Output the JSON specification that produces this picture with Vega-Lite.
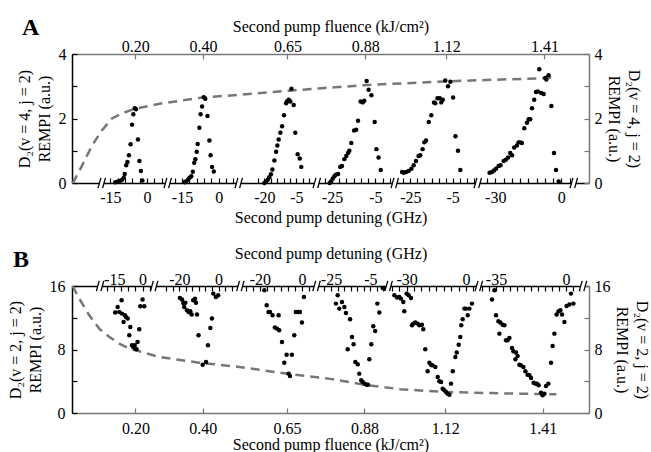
{
  "$schema": "https://vega.github.io/schema/vega-lite/v6.json",
  "padding": {"left": 7, "top": 16, "right": 0, "bottom": 0},
  "bounds": "flush",
  "spacing": 103,
  "datasets": {
    "dotsA": [
      {"seg":1,"detuning":-12.96,"signal":0.02},{"seg":1,"detuning":-11.87,"signal":0.05},{"seg":1,"detuning":-10.9,"signal":0.07},{"seg":1,"detuning":-10.2,"signal":0.1},{"seg":1,"detuning":-9.5,"signal":0.16},{"seg":1,"detuning":-9.1,"signal":0.28},{"seg":1,"detuning":-8.5,"signal":0.55},{"seg":1,"detuning":-8.0,"signal":0.65},{"seg":1,"detuning":-7.4,"signal":0.86},{"seg":1,"detuning":-6.7,"signal":1.2},{"seg":1,"detuning":-6.1,"signal":1.81},{"seg":1,"detuning":-5.6,"signal":2.13},{"seg":1,"detuning":-5.0,"signal":2.32},{"seg":1,"detuning":-4.5,"signal":2.29},{"seg":1,"detuning":-3.7,"signal":1.35},{"seg":1,"detuning":-3.1,"signal":0.68},{"seg":1,"detuning":-2.5,"signal":0.37},{"seg":1,"detuning":-1.9,"signal":0.08},
      {"seg":2,"detuning":-13.9,"signal":0.02},{"seg":2,"detuning":-13.4,"signal":0.05},{"seg":2,"detuning":-12.55,"signal":0.1},{"seg":2,"detuning":-11.9,"signal":0.16},{"seg":2,"detuning":-11.2,"signal":0.21},{"seg":2,"detuning":-10.6,"signal":0.35},{"seg":2,"detuning":-10.0,"signal":0.63},{"seg":2,"detuning":-9.55,"signal":0.74},{"seg":2,"detuning":-9.0,"signal":0.97},{"seg":2,"detuning":-8.6,"signal":1.21},{"seg":2,"detuning":-7.9,"signal":1.71},{"seg":2,"detuning":-7.4,"signal":2.13},{"seg":2,"detuning":-6.8,"signal":2.37},{"seg":2,"detuning":-6.1,"signal":2.66},{"seg":2,"detuning":-5.5,"signal":2.61},{"seg":2,"detuning":-4.6,"signal":2.08},{"seg":2,"detuning":-3.8,"signal":1.32},{"seg":2,"detuning":-3.3,"signal":0.86},{"seg":2,"detuning":-2.7,"signal":0.5},{"seg":2,"detuning":-2.0,"signal":0.36},
      {"seg":3,"detuning":-20.0,"signal":0.0},{"seg":3,"detuning":-19.2,"signal":0.05},{"seg":3,"detuning":-18.4,"signal":0.1},{"seg":3,"detuning":-17.7,"signal":0.18},{"seg":3,"detuning":-16.9,"signal":0.27},{"seg":3,"detuning":-16.25,"signal":0.42},{"seg":3,"detuning":-15.3,"signal":0.7},{"seg":3,"detuning":-14.5,"signal":0.97},{"seg":3,"detuning":-13.9,"signal":1.16},{"seg":3,"detuning":-13.3,"signal":1.35},{"seg":3,"detuning":-12.5,"signal":1.56},{"seg":3,"detuning":-11.7,"signal":1.76},{"seg":3,"detuning":-10.8,"signal":2.1},{"seg":3,"detuning":-9.8,"signal":2.47},{"seg":3,"detuning":-9.4,"signal":2.53},{"seg":3,"detuning":-8.6,"signal":2.58},{"seg":3,"detuning":-7.8,"signal":2.53},{"seg":3,"detuning":-7.3,"signal":2.92},{"seg":3,"detuning":-6.25,"signal":2.42},{"seg":3,"detuning":-5.5,"signal":1.56},{"seg":3,"detuning":-4.4,"signal":0.89},{"seg":3,"detuning":-3.4,"signal":0.76},{"seg":3,"detuning":-2.7,"signal":0.5},
      {"seg":4,"detuning":-26.1,"signal":0.0},{"seg":4,"detuning":-25.5,"signal":0.05},{"seg":4,"detuning":-24.7,"signal":0.13},{"seg":4,"detuning":-23.9,"signal":0.21},{"seg":4,"detuning":-23.2,"signal":0.26},{"seg":4,"detuning":-22.2,"signal":0.28},{"seg":4,"detuning":-21.2,"signal":0.5},{"seg":4,"detuning":-20.4,"signal":0.53},{"seg":4,"detuning":-19.3,"signal":0.74},{"seg":4,"detuning":-18.4,"signal":0.84},{"seg":4,"detuning":-17.6,"signal":0.93},{"seg":4,"detuning":-17.0,"signal":1.0},{"seg":4,"detuning":-16.1,"signal":1.24},{"seg":4,"detuning":-14.8,"signal":1.63},{"seg":4,"detuning":-13.8,"signal":1.65},{"seg":4,"detuning":-13.0,"signal":1.93},{"seg":4,"detuning":-11.8,"signal":2.53},{"seg":4,"detuning":-10.8,"signal":2.5},{"seg":4,"detuning":-10.1,"signal":2.55},{"seg":4,"detuning":-9.0,"signal":3.16},{"seg":4,"detuning":-8.1,"signal":2.89},{"seg":4,"detuning":-6.8,"signal":2.72},{"seg":4,"detuning":-5.3,"signal":1.89},{"seg":4,"detuning":-4.5,"signal":1.05},{"seg":4,"detuning":-3.5,"signal":0.79},{"seg":4,"detuning":-2.5,"signal":0.4},
      {"seg":5,"detuning":-28.9,"signal":0.34},{"seg":5,"detuning":-28.1,"signal":0.32},{"seg":5,"detuning":-27.0,"signal":0.34},{"seg":5,"detuning":-25.8,"signal":0.37},{"seg":5,"detuning":-24.5,"signal":0.44},{"seg":5,"detuning":-23.4,"signal":0.55},{"seg":5,"detuning":-22.3,"signal":0.68},{"seg":5,"detuning":-21.1,"signal":0.84},{"seg":5,"detuning":-20.3,"signal":0.86},{"seg":5,"detuning":-19.2,"signal":1.05},{"seg":5,"detuning":-18.4,"signal":1.26},{"seg":5,"detuning":-17.6,"signal":1.32},{"seg":5,"detuning":-16.3,"signal":1.89},{"seg":5,"detuning":-15.1,"signal":2.1},{"seg":5,"detuning":-13.8,"signal":2.5},{"seg":5,"detuning":-13.2,"signal":2.47},{"seg":5,"detuning":-12.2,"signal":2.63},{"seg":5,"detuning":-11.1,"signal":2.63},{"seg":5,"detuning":-10.4,"signal":2.5},{"seg":5,"detuning":-9.7,"signal":2.58},{"seg":5,"detuning":-8.5,"signal":3.18},{"seg":5,"detuning":-7.2,"signal":3.0},{"seg":5,"detuning":-6.1,"signal":3.14},{"seg":5,"detuning":-4.8,"signal":2.65},{"seg":5,"detuning":-3.7,"signal":1.45},{"seg":5,"detuning":-2.5,"signal":1.0},{"seg":5,"detuning":-1.4,"signal":0.4},
      {"seg":6,"detuning":-32.6,"signal":0.32},{"seg":6,"detuning":-31.5,"signal":0.34},{"seg":6,"detuning":-30.6,"signal":0.39},{"seg":6,"detuning":-29.7,"signal":0.44},{"seg":6,"detuning":-28.5,"signal":0.53},{"seg":6,"detuning":-27.6,"signal":0.55},{"seg":6,"detuning":-26.2,"signal":0.68},{"seg":6,"detuning":-25.2,"signal":0.72},{"seg":6,"detuning":-24.2,"signal":0.79},{"seg":6,"detuning":-23.2,"signal":0.93},{"seg":6,"detuning":-22.4,"signal":0.86},{"seg":6,"detuning":-21.4,"signal":1.1},{"seg":6,"detuning":-20.2,"signal":1.16},{"seg":6,"detuning":-19.4,"signal":1.26},{"seg":6,"detuning":-18.6,"signal":1.26},{"seg":6,"detuning":-17.9,"signal":1.24},{"seg":6,"detuning":-16.8,"signal":1.7},{"seg":6,"detuning":-15.6,"signal":1.87},{"seg":6,"detuning":-14.8,"signal":1.98},{"seg":6,"detuning":-14.1,"signal":1.98},{"seg":6,"detuning":-13.3,"signal":2.32},{"seg":6,"detuning":-12.3,"signal":2.58},{"seg":6,"detuning":-11.5,"signal":2.82},{"seg":6,"detuning":-10.6,"signal":2.84},{"seg":6,"detuning":-10.0,"signal":3.53},{"seg":6,"detuning":-9.1,"signal":2.79},{"seg":6,"detuning":-8.0,"signal":2.76},{"seg":6,"detuning":-7.3,"signal":3.26},{"seg":6,"detuning":-6.8,"signal":3.21},{"seg":6,"detuning":-5.8,"signal":3.34},{"seg":6,"detuning":-4.5,"signal":2.39},{"seg":6,"detuning":-3.3,"signal":0.93},{"seg":6,"detuning":-2.4,"signal":0.4},{"seg":6,"detuning":-1.2,"signal":0.05}
    ],
    "dotsB": [
      {"seg":1,"detuning":-14.5,"signal":12.65},{"seg":1,"detuning":-13.2,"signal":13.36},{"seg":1,"detuning":-12.35,"signal":12.73},{"seg":1,"detuning":-11.1,"signal":14.2},{"seg":1,"detuning":-10.9,"signal":12.52},{"seg":1,"detuning":-10.05,"signal":11.47},{"seg":1,"detuning":-9.35,"signal":12.31},{"seg":1,"detuning":-8.8,"signal":12.1},{"seg":1,"detuning":-7.9,"signal":11.9},{"seg":1,"detuning":-7.05,"signal":9.79},{"seg":1,"detuning":-6.5,"signal":10.84},{"seg":1,"detuning":-5.6,"signal":8.53},{"seg":1,"detuning":-4.9,"signal":8.32},{"seg":1,"detuning":-4.2,"signal":8.53},{"seg":1,"detuning":-3.9,"signal":8.1},{"seg":1,"detuning":-3.2,"signal":8.03},{"seg":1,"detuning":-2.65,"signal":8.95},{"seg":1,"detuning":-1.76,"signal":10.55},{"seg":1,"detuning":-1.2,"signal":13.45},{"seg":1,"detuning":0.0,"signal":14.29},{"seg":1,"detuning":0.9,"signal":13.45},
      {"seg":2,"detuning":-19.7,"signal":14.5},{"seg":2,"detuning":-18.6,"signal":14.29},{"seg":2,"detuning":-18.0,"signal":13.87},{"seg":2,"detuning":-17.5,"signal":13.36},{"seg":2,"detuning":-16.9,"signal":13.9},{"seg":2,"detuning":-16.1,"signal":12.94},{"seg":2,"detuning":-15.25,"signal":12.73},{"seg":2,"detuning":-14.4,"signal":12.82},{"seg":2,"detuning":-13.7,"signal":12.4},{"seg":2,"detuning":-12.9,"signal":14.2},{"seg":2,"detuning":-12.0,"signal":14.4},{"seg":2,"detuning":-11.5,"signal":13.9},{"seg":2,"detuning":-11.0,"signal":12.4},{"seg":2,"detuning":-10.2,"signal":9.79},{"seg":2,"detuning":-8.1,"signal":6.09},{"seg":2,"detuning":-6.4,"signal":6.43},{"seg":2,"detuning":-5.4,"signal":8.53},{"seg":2,"detuning":-4.2,"signal":10.71},{"seg":2,"detuning":-3.4,"signal":11.9},{"seg":2,"detuning":-2.7,"signal":15.04},{"seg":2,"detuning":-1.4,"signal":14.62},{"seg":2,"detuning":-0.2,"signal":14.83},
      {"seg":3,"detuning":-17.9,"signal":15.46},{"seg":3,"detuning":-16.8,"signal":13.57},{"seg":3,"detuning":-15.9,"signal":12.73},{"seg":3,"detuning":-15.2,"signal":12.73},{"seg":3,"detuning":-14.0,"signal":12.31},{"seg":3,"detuning":-12.9,"signal":10.76},{"seg":3,"detuning":-11.9,"signal":10.63},{"seg":3,"detuning":-10.8,"signal":10.42},{"seg":3,"detuning":-11.1,"signal":12.31},{"seg":3,"detuning":-9.5,"signal":8.95},{"seg":3,"detuning":-8.4,"signal":6.34},{"seg":3,"detuning":-7.3,"signal":7.35},{"seg":3,"detuning":-6.35,"signal":4.96},{"seg":3,"detuning":-5.7,"signal":4.66},{"seg":3,"detuning":-4.8,"signal":7.35},{"seg":3,"detuning":-3.65,"signal":9.79},{"seg":3,"detuning":-2.9,"signal":12.73},{"seg":3,"detuning":-1.75,"signal":12.73},{"seg":3,"detuning":-0.95,"signal":12.73},{"seg":3,"detuning":0.0,"signal":11.39},{"seg":3,"detuning":0.95,"signal":14.62},
      {"seg":4,"detuning":-22.5,"signal":13.78},{"seg":4,"detuning":-21.6,"signal":14.83},{"seg":4,"detuning":-20.8,"signal":13.15},{"seg":4,"detuning":-19.4,"signal":13.99},{"seg":4,"detuning":-18.2,"signal":13.36},{"seg":4,"detuning":-17.4,"signal":12.61},{"seg":4,"detuning":-16.5,"signal":8.03},{"seg":4,"detuning":-15.3,"signal":11.81},{"seg":4,"detuning":-14.3,"signal":9.58},{"seg":4,"detuning":-13.5,"signal":8.66},{"seg":4,"detuning":-12.6,"signal":6.43},{"seg":4,"detuning":-11.4,"signal":6.13},{"seg":4,"detuning":-10.6,"signal":4.96},{"seg":4,"detuning":-9.6,"signal":4.12},{"seg":4,"detuning":-8.9,"signal":3.91},{"seg":4,"detuning":-7.9,"signal":3.7},{"seg":4,"detuning":-6.9,"signal":3.57},{"seg":4,"detuning":-6.2,"signal":3.57},{"seg":4,"detuning":-5.5,"signal":6.76},{"seg":4,"detuning":-4.5,"signal":8.66},{"seg":4,"detuning":-3.5,"signal":10.92},{"seg":4,"detuning":-2.5,"signal":10.34},{"seg":4,"detuning":-1.4,"signal":13.78},{"seg":4,"detuning":-0.4,"signal":12.65},{"seg":4,"detuning":1.3,"signal":15.76},{"seg":4,"detuning":2.1,"signal":15.76},{"seg":4,"detuning":3.0,"signal":15.67},
      {"seg":5,"detuning":-36.2,"signal":14.83},{"seg":5,"detuning":-34.8,"signal":14.54},{"seg":5,"detuning":-33.7,"signal":14.62},{"seg":5,"detuning":-32.9,"signal":14.41},{"seg":5,"detuning":-31.7,"signal":13.99},{"seg":5,"detuning":-31.2,"signal":12.82},{"seg":5,"detuning":-30.0,"signal":15.04},{"seg":5,"detuning":-29.0,"signal":14.83},{"seg":5,"detuning":-27.8,"signal":14.5},{"seg":5,"detuning":-27.3,"signal":11.05},{"seg":5,"detuning":-26.6,"signal":11.26},{"seg":5,"detuning":-25.6,"signal":11.39},{"seg":5,"detuning":-24.5,"signal":11.26},{"seg":5,"detuning":-23.6,"signal":11.05},{"seg":5,"detuning":-22.3,"signal":11.13},{"seg":5,"detuning":-21.6,"signal":10.55},{"seg":5,"detuning":-20.6,"signal":8.03},{"seg":5,"detuning":-19.4,"signal":5.25},{"seg":5,"detuning":-18.5,"signal":6.34},{"seg":5,"detuning":-17.7,"signal":6.09},{"seg":5,"detuning":-16.9,"signal":6.0},{"seg":5,"detuning":-15.5,"signal":5.8},{"seg":5,"detuning":-14.3,"signal":4.54},{"seg":5,"detuning":-13.5,"signal":3.99},{"seg":5,"detuning":-12.6,"signal":3.91},{"seg":5,"detuning":-11.8,"signal":3.07},{"seg":5,"detuning":-10.96,"signal":2.86},{"seg":5,"detuning":-10.1,"signal":2.65},{"seg":5,"detuning":-9.3,"signal":2.44},{"seg":5,"detuning":-8.4,"signal":2.31},{"seg":5,"detuning":-7.6,"signal":3.7},{"seg":5,"detuning":-6.7,"signal":5.25},{"seg":5,"detuning":-5.4,"signal":7.06},{"seg":5,"detuning":-4.7,"signal":7.61},{"seg":5,"detuning":-3.7,"signal":8.61},{"seg":5,"detuning":-2.9,"signal":9.58},{"seg":5,"detuning":-2.4,"signal":11.05},{"seg":5,"detuning":-1.7,"signal":11.81},{"seg":5,"detuning":-0.84,"signal":13.15},{"seg":5,"detuning":0.0,"signal":13.15},{"seg":5,"detuning":0.84,"signal":12.31},{"seg":5,"detuning":1.7,"signal":13.15},{"seg":5,"detuning":3.0,"signal":13.78},
      {"seg":6,"detuning":-37.0,"signal":14.29},{"seg":6,"detuning":-35.8,"signal":15.46},{"seg":6,"detuning":-35.0,"signal":12.31},{"seg":6,"detuning":-33.8,"signal":11.55},{"seg":6,"detuning":-32.8,"signal":11.39},{"seg":6,"detuning":-33.3,"signal":10.0},{"seg":6,"detuning":-31.7,"signal":11.13},{"seg":6,"detuning":-30.8,"signal":11.05},{"seg":6,"detuning":-30.0,"signal":9.16},{"seg":6,"detuning":-29.2,"signal":9.16},{"seg":6,"detuning":-28.3,"signal":9.45},{"seg":6,"detuning":-27.0,"signal":8.19},{"seg":6,"detuning":-26.3,"signal":7.77},{"seg":6,"detuning":-25.3,"signal":6.76},{"seg":6,"detuning":-25.0,"signal":7.61},{"seg":6,"detuning":-24.2,"signal":7.18},{"seg":6,"detuning":-23.3,"signal":6.09},{"seg":6,"detuning":-22.5,"signal":6.0},{"seg":6,"detuning":-21.3,"signal":5.8},{"seg":6,"detuning":-20.3,"signal":5.25},{"seg":6,"detuning":-19.2,"signal":4.83},{"seg":6,"detuning":-18.3,"signal":4.75},{"seg":6,"detuning":-17.5,"signal":4.41},{"seg":6,"detuning":-16.2,"signal":3.82},{"seg":6,"detuning":-15.3,"signal":3.7},{"seg":6,"detuning":-14.5,"signal":3.7},{"seg":6,"detuning":-13.7,"signal":3.49},{"seg":6,"detuning":-12.5,"signal":2.56},{"seg":6,"detuning":-11.7,"signal":2.23},{"seg":6,"detuning":-10.8,"signal":2.44},{"seg":6,"detuning":-10.0,"signal":3.4},{"seg":6,"detuning":-8.8,"signal":3.7},{"seg":6,"detuning":-7.5,"signal":6.34},{"seg":6,"detuning":-6.7,"signal":8.45},{"seg":6,"detuning":-5.8,"signal":10.0},{"seg":6,"detuning":-4.7,"signal":12.4},{"seg":6,"detuning":-3.7,"signal":12.82},{"seg":6,"detuning":-2.8,"signal":12.94},{"seg":6,"detuning":-2.0,"signal":12.4},{"seg":6,"detuning":-0.8,"signal":11.47},{"seg":6,"detuning":0.3,"signal":13.49},{"seg":6,"detuning":1.7,"signal":13.66},{"seg":6,"detuning":2.5,"signal":15.04},{"seg":6,"detuning":3.7,"signal":13.78}
    ],
    "curveA": [
      {"fluence":0.0135,"signal":0.0},{"fluence":0.018,"signal":0.05},{"fluence":0.042,"signal":0.53},{"fluence":0.072,"signal":1.16},{"fluence":0.101,"signal":1.63},{"fluence":0.131,"signal":2.0},{"fluence":0.161,"signal":2.16},{"fluence":0.195,"signal":2.29},{"fluence":0.279,"signal":2.47},{"fluence":0.397,"signal":2.65},{"fluence":0.516,"signal":2.74},{"fluence":0.664,"signal":2.87},{"fluence":0.752,"signal":2.94},{"fluence":0.888,"signal":3.04},{"fluence":1.116,"signal":3.15},{"fluence":1.285,"signal":3.21},{"fluence":1.409,"signal":3.25},{"fluence":1.433,"signal":3.27}
    ],
    "curveB": [
      {"fluence":0.0135,"signal":16.0},{"fluence":0.0334,"signal":14.4},{"fluence":0.063,"signal":12.3},{"fluence":0.093,"signal":10.6},{"fluence":0.123,"signal":9.58},{"fluence":0.152,"signal":8.74},{"fluence":0.182,"signal":8.1},{"fluence":0.212,"signal":7.77},{"fluence":0.271,"signal":7.06},{"fluence":0.39,"signal":6.34},{"fluence":0.509,"signal":5.8},{"fluence":0.658,"signal":4.9},{"fluence":0.778,"signal":4.3},{"fluence":0.888,"signal":3.5},{"fluence":0.986,"signal":3.0},{"fluence":1.117,"signal":2.65},{"fluence":1.284,"signal":2.48},{"fluence":1.45,"signal":2.35}
    ],
    "breaksA": [{"fluence":0.1015},{"fluence":0.2967},{"fluence":0.5068},{"fluence":0.7376},{"fluence":0.9683},{"fluence":1.2139},{"fluence":1.4979}],
    "breaksB": [{"fluence":0.0959},{"fluence":0.2566},{"fluence":0.5125},{"fluence":0.7387},{"fluence":0.9528},{"fluence":1.2206},{"fluence":1.53}]
  },
  "vconcat": [
    {
      "width": 517,
      "height": 129,
      "title": {"text": "A", "anchor": "start", "frame": "bounds", "fontSize": 24, "fontWeight": "bold", "font": "Liberation Serif", "color": "black", "dx": 6, "dy": 22, "offset": 0},
      "resolve": {"scale": {"x": "independent", "y": "independent"}, "axis": {"x": "independent", "y": "independent"}},
      "layer": [
        {
          "data": {"name": "curveA"},
          "mark": {"type": "line", "color": "#777777", "strokeWidth": 2.5, "strokeDash": [9, 6]},
          "encoding": {
            "x": {"field": "fluence", "type": "quantitative", "scale": {"domain": [0.0127, 1.542], "nice": false, "zero": false},
              "axis": {"orient": "top", "values": [0.2, 0.4, 0.65, 0.88, 1.12, 1.41], "format": ".2f", "tickSize": -5, "labelPadding": 5, "tickColor": "#777777", "domainColor": "#777777", "title": "Second pump fluence (kJ/cm²)", "titlePadding": 4}},
            "y": {"field": "signal", "type": "quantitative", "scale": {"domain": [0, 4], "nice": false},
              "axis": {"orient": "right", "values": [0, 1, 2, 3, 4], "labelExpr": "datum.value % 2 == 0 ? datum.label : ''", "tickSize": -5, "labelPadding": 10, "tickColor": "#777777", "domainColor": "#777777", "title": ["D₂(v = 4, j = 2)", "REMPI (a.u.)"], "titlePadding": 3, "titleLineHeight": 20}}
          }
        },
        {
          "data": {"name": "dotsA"}, "transform": [{"filter": "datum.seg == 1"}],
          "mark": {"type": "circle", "size": 20, "color": "black", "opacity": 1},
          "encoding": {
            "x": {"field": "detuning", "type": "quantitative", "scale": {"domain": [-30.65, 180.6], "nice": false, "zero": false},
              "axis": {"orient": "bottom", "values": [-18, -15, -12, -9, -6, -3, 0, 3, 6], "labelExpr": "indexof([-15, 0], datum.value) >= 0 ? '' + datum.value : ''", "tickSize": -5, "labelPadding": 11, "domain": true, "title": "Second pump detuning (GHz)", "titlePadding": 4}},
            "y": {"field": "signal", "type": "quantitative", "scale": {"domain": [0, 4], "nice": false},
              "axis": {"orient": "left", "values": [0, 1, 2, 3, 4], "labelExpr": "datum.value % 2 == 0 ? datum.label : ''", "tickSize": -5, "labelPadding": 11, "title": ["D₂(v = 4, j = 2)", "REMPI (a.u.)"], "titlePadding": 6, "titleLineHeight": 20}}
          }
        },
        {
          "data": {"name": "dotsA"}, "transform": [{"filter": "datum.seg == 2"}],
          "mark": {"type": "circle", "size": 20, "color": "black", "opacity": 1},
          "encoding": {
            "x": {"field": "detuning", "type": "quantitative", "scale": {"domain": [-59.95, 151.3], "nice": false, "zero": false},
              "axis": {"orient": "bottom", "values": [-18, -15, -12, -9, -6, -3, 0, 3, 6], "labelExpr": "indexof([-15, 0], datum.value) >= 0 ? '' + datum.value : ''", "tickSize": -5, "labelPadding": 11, "domain": false, "title": null}},
            "y": {"field": "signal", "type": "quantitative", "scale": {"domain": [0, 4], "nice": false}, "axis": null}
          }
        },
        {
          "data": {"name": "dotsA"}, "transform": [{"filter": "datum.seg == 3"}],
          "mark": {"type": "circle", "size": 20, "color": "black", "opacity": 1},
          "encoding": {
            "x": {"field": "detuning", "type": "quantitative", "scale": {"domain": [-110.2, 132.2], "nice": false, "zero": false},
              "axis": {"orient": "bottom", "values": [-23, -20, -17, -14, -11, -8, -5, -2, 1, 4], "labelExpr": "indexof([-20, -5], datum.value) >= 0 ? '' + datum.value : ''", "tickSize": -5, "labelPadding": 11, "domain": false, "title": null}},
            "y": {"field": "signal", "type": "quantitative", "scale": {"domain": [0, 4], "nice": false}, "axis": null}
          }
        },
        {
          "data": {"name": "dotsA"}, "transform": [{"filter": "datum.seg == 4"}],
          "mark": {"type": "circle", "size": 20, "color": "black", "opacity": 1},
          "encoding": {
            "x": {"field": "detuning", "type": "quantitative", "scale": {"domain": [-145.1, 93.7], "nice": false, "zero": false},
              "axis": {"orient": "bottom", "values": [-28.333, -25, -21.667, -18.333, -15, -11.667, -8.333, -5, -1.667, 1.667], "labelExpr": "indexof([-25, -5], datum.value) >= 0 ? '' + datum.value : ''", "tickSize": -5, "labelPadding": 11, "domain": false, "title": null}},
            "y": {"field": "signal", "type": "quantitative", "scale": {"domain": [0, 4], "nice": false}, "axis": null}
          }
        },
        {
          "data": {"name": "dotsA"}, "transform": [{"filter": "datum.seg == 5"}],
          "mark": {"type": "circle", "size": 20, "color": "black", "opacity": 1},
          "encoding": {
            "x": {"field": "detuning", "type": "quantitative", "scale": {"domain": [-184.6, 59.3], "nice": false, "zero": false},
              "axis": {"orient": "bottom", "values": [-28.333, -25, -21.667, -18.333, -15, -11.667, -8.333, -5, -1.667, 1.667, 5], "labelExpr": "indexof([-25, -5], datum.value) >= 0 ? '' + datum.value : ''", "tickSize": -5, "labelPadding": 11, "domain": false, "title": null}},
            "y": {"field": "signal", "type": "quantitative", "scale": {"domain": [0, 4], "nice": false}, "axis": null}
          }
        },
        {
          "data": {"name": "dotsA"}, "transform": [{"filter": "datum.seg == 6"}],
          "mark": {"type": "circle", "size": 20, "color": "black", "opacity": 1},
          "encoding": {
            "x": {"field": "detuning", "type": "quantitative", "scale": {"domain": [-222.4, 12.6], "nice": false, "zero": false},
              "axis": {"orient": "bottom", "values": [-33.75, -30, -26.25, -22.5, -18.75, -15, -11.25, -7.5, -3.75, 0, 3.75], "labelExpr": "indexof([-30, 0], datum.value) >= 0 ? '' + datum.value : ''", "tickSize": -5, "labelPadding": 11, "domain": false, "title": null}},
            "y": {"field": "signal", "type": "quantitative", "scale": {"domain": [0, 4], "nice": false}, "axis": null}
          }
        },
        {
          "data": {"name": "breaksA"},
          "mark": {"type": "point", "shape": "M-0.7,0.9L0.1,0.9L0.6,-0.9L-0.2,-0.9Z", "filled": true, "fill": "white", "strokeWidth": 0, "size": 130, "opacity": 1},
          "encoding": {
            "x": {"field": "fluence", "type": "quantitative", "scale": {"domain": [0.0127, 1.542], "nice": false, "zero": false}, "axis": null},
            "y": {"datum": 0, "type": "quantitative", "scale": {"domain": [0, 4], "nice": false}, "axis": null}
          }
        },
        {
          "data": {"name": "breaksA"},
          "mark": {"type": "point", "shape": "M-0.7,0.9L-0.2,-0.9M0.1,0.9L0.6,-0.9", "filled": false, "stroke": "black", "strokeWidth": 1.3, "size": 130, "opacity": 1},
          "encoding": {
            "x": {"field": "fluence", "type": "quantitative", "scale": {"domain": [0.0127, 1.542], "nice": false, "zero": false}, "axis": null},
            "y": {"datum": 0, "type": "quantitative", "scale": {"domain": [0, 4], "nice": false}, "axis": null}
          }
        }
      ]
    },
    {
      "width": 517,
      "height": 127,
      "title": {"text": "B", "anchor": "start", "frame": "bounds", "fontSize": 24, "fontWeight": "bold", "font": "Liberation Serif", "color": "black", "dx": 6, "dy": 27, "offset": 0},
      "resolve": {"scale": {"x": "independent", "y": "independent"}, "axis": {"x": "independent", "y": "independent"}},
      "layer": [
        {
          "data": {"name": "curveB"},
          "mark": {"type": "line", "color": "#777777", "strokeWidth": 2.5, "strokeDash": [9, 6]},
          "encoding": {
            "x": {"field": "fluence", "type": "quantitative", "scale": {"domain": [0.0117, 1.547], "nice": false, "zero": false},
              "axis": {"orient": "bottom", "values": [0.2, 0.4, 0.65, 0.88, 1.12, 1.41], "format": ".2f", "tickSize": -5, "labelPadding": 12, "tickColor": "#777777", "domainColor": "#777777", "title": "Second pump fluence (kJ/cm²)", "titlePadding": 0}},
            "y": {"field": "signal", "type": "quantitative", "scale": {"domain": [0, 16], "nice": false},
              "axis": {"orient": "right", "values": [0, 4, 8, 12, 16], "labelExpr": "datum.value % 8 == 0 ? datum.label : ''", "tickSize": -5, "labelPadding": 10, "tickColor": "#777777", "domainColor": "#777777", "title": ["D₂(v = 2, j = 2)", "REMPI (a.u.)"], "titlePadding": 3, "titleLineHeight": 20}}
          }
        },
        {
          "data": {"name": "dotsB"}, "transform": [{"filter": "datum.seg == 1"}],
          "mark": {"type": "circle", "size": 20, "color": "black", "opacity": 1},
          "encoding": {
            "x": {"field": "detuning", "type": "quantitative", "scale": {"domain": [-37.4, 236.6], "nice": false, "zero": false},
              "axis": {"orient": "top", "values": [-18.75, -15, -11.25, -7.5, -3.75, 0, 3.75], "labelExpr": "indexof([-15, 0], datum.value) >= 0 ? '' + datum.value : ''", "tickSize": -5, "labelPadding": 4, "domain": true, "title": "Second pump detuning (GHz)", "titlePadding": 10}},
            "y": {"field": "signal", "type": "quantitative", "scale": {"domain": [0, 16], "nice": false},
              "axis": {"orient": "left", "values": [0, 4, 8, 12, 16], "labelExpr": "datum.value % 8 == 0 ? datum.label : ''", "tickSize": -5, "labelPadding": 12, "title": ["D₂(v = 2, j = 2)", "REMPI (a.u.)"], "titlePadding": 6, "titleLineHeight": 20}}
          }
        },
        {
          "data": {"name": "dotsB"}, "transform": [{"filter": "datum.seg == 2"}],
          "mark": {"type": "circle", "size": 20, "color": "black", "opacity": 1},
          "encoding": {
            "x": {"field": "detuning", "type": "quantitative", "scale": {"domain": [-74.6, 188.5], "nice": false, "zero": false},
              "axis": {"orient": "top", "values": [-26.667, -23.333, -20, -16.667, -13.333, -10, -6.667, -3.333, 0, 3.333, 6.667], "labelExpr": "indexof([-20, 0], datum.value) >= 0 ? '' + datum.value : ''", "tickSize": -5, "labelPadding": 4, "domain": false, "title": null}},
            "y": {"field": "signal", "type": "quantitative", "scale": {"domain": [0, 16], "nice": false}, "axis": null}
          }
        },
        {
          "data": {"name": "dotsB"}, "transform": [{"filter": "datum.seg == 3"}],
          "mark": {"type": "circle", "size": 20, "color": "black", "opacity": 1},
          "encoding": {
            "x": {"field": "detuning", "type": "quantitative", "scale": {"domain": [-109.5, 136.7], "nice": false, "zero": false},
              "axis": {"orient": "top", "values": [-26.667, -23.333, -20, -16.667, -13.333, -10, -6.667, -3.333, 0, 3.333], "labelExpr": "indexof([-20, 0], datum.value) >= 0 ? '' + datum.value : ''", "tickSize": -5, "labelPadding": 4, "domain": false, "title": null}},
            "y": {"field": "signal", "type": "quantitative", "scale": {"domain": [0, 16], "nice": false}, "axis": null}
          }
        },
        {
          "data": {"name": "dotsB"}, "transform": [{"filter": "datum.seg == 4"}],
          "mark": {"type": "circle", "size": 20, "color": "black", "opacity": 1},
          "encoding": {
            "x": {"field": "detuning", "type": "quantitative", "scale": {"domain": [-156.8, 106.3], "nice": false, "zero": false},
              "axis": {"orient": "top", "values": [-28.333, -25, -21.667, -18.333, -15, -11.667, -8.333, -5, -1.667, 1.667], "labelExpr": "indexof([-25, -5], datum.value) >= 0 ? '' + datum.value : ''", "tickSize": -5, "labelPadding": 4, "domain": false, "title": null}},
            "y": {"field": "signal", "type": "quantitative", "scale": {"domain": [0, 16], "nice": false}, "axis": null}
          }
        },
        {
          "data": {"name": "dotsB"}, "transform": [{"filter": "datum.seg == 5"}],
          "mark": {"type": "circle", "size": 20, "color": "black", "opacity": 1},
          "encoding": {
            "x": {"field": "detuning", "type": "quantitative", "scale": {"domain": [-199.0, 62.1], "nice": false, "zero": false},
              "axis": {"orient": "top", "values": [-37.5, -33.75, -30, -26.25, -22.5, -18.75, -15, -11.25, -7.5, -3.75, 0, 3.75], "labelExpr": "indexof([-30, 0], datum.value) >= 0 ? '' + datum.value : ''", "tickSize": -5, "labelPadding": 4, "domain": false, "title": null}},
            "y": {"field": "signal", "type": "quantitative", "scale": {"domain": [0, 16], "nice": false}, "axis": null}
          }
        },
        {
          "data": {"name": "dotsB"}, "transform": [{"filter": "datum.seg == 6"}],
          "mark": {"type": "circle", "size": 20, "color": "black", "opacity": 1},
          "encoding": {
            "x": {"field": "detuning", "type": "quantitative", "scale": {"domain": [-247, 11.5], "nice": false, "zero": false},
              "axis": {"orient": "top", "values": [-42, -38.5, -35, -31.5, -28, -24.5, -21, -17.5, -14, -10.5, -7, -3.5, 0, 3.5, 7], "labelExpr": "indexof([-35, 0], datum.value) >= 0 ? '' + datum.value : ''", "tickSize": -5, "labelPadding": 4, "domain": false, "title": null}},
            "y": {"field": "signal", "type": "quantitative", "scale": {"domain": [0, 16], "nice": false}, "axis": null}
          }
        },
        {
          "data": {"name": "breaksB"},
          "mark": {"type": "point", "shape": "M-0.7,0.9L0.1,0.9L0.6,-0.9L-0.2,-0.9Z", "filled": true, "fill": "white", "strokeWidth": 0, "size": 130, "opacity": 1},
          "encoding": {
            "x": {"field": "fluence", "type": "quantitative", "scale": {"domain": [0.0117, 1.547], "nice": false, "zero": false}, "axis": null},
            "y": {"datum": 16, "type": "quantitative", "scale": {"domain": [0, 16], "nice": false}, "axis": null}
          }
        },
        {
          "data": {"name": "breaksB"},
          "mark": {"type": "point", "shape": "M-0.7,0.9L-0.2,-0.9M0.1,0.9L0.6,-0.9", "filled": false, "stroke": "black", "strokeWidth": 1.3, "size": 130, "opacity": 1},
          "encoding": {
            "x": {"field": "fluence", "type": "quantitative", "scale": {"domain": [0.0117, 1.547], "nice": false, "zero": false}, "axis": null},
            "y": {"datum": 16, "type": "quantitative", "scale": {"domain": [0, 16], "nice": false}, "axis": null}
          }
        }
      ]
    }
  ],
  "config": {
    "font": "Liberation Serif",
    "view": {"stroke": null},
    "axis": {"labelFont": "Liberation Serif", "titleFont": "Liberation Serif", "labelFontSize": 16, "titleFontSize": 16, "titleFontWeight": "normal", "labelColor": "black", "titleColor": "black", "grid": false, "tickColor": "black", "domainColor": "black", "tickWidth": 1.2, "domainWidth": 1.5, "labelOverlap": false, "labelFlush": false, "labelBound": false}
  }
}
